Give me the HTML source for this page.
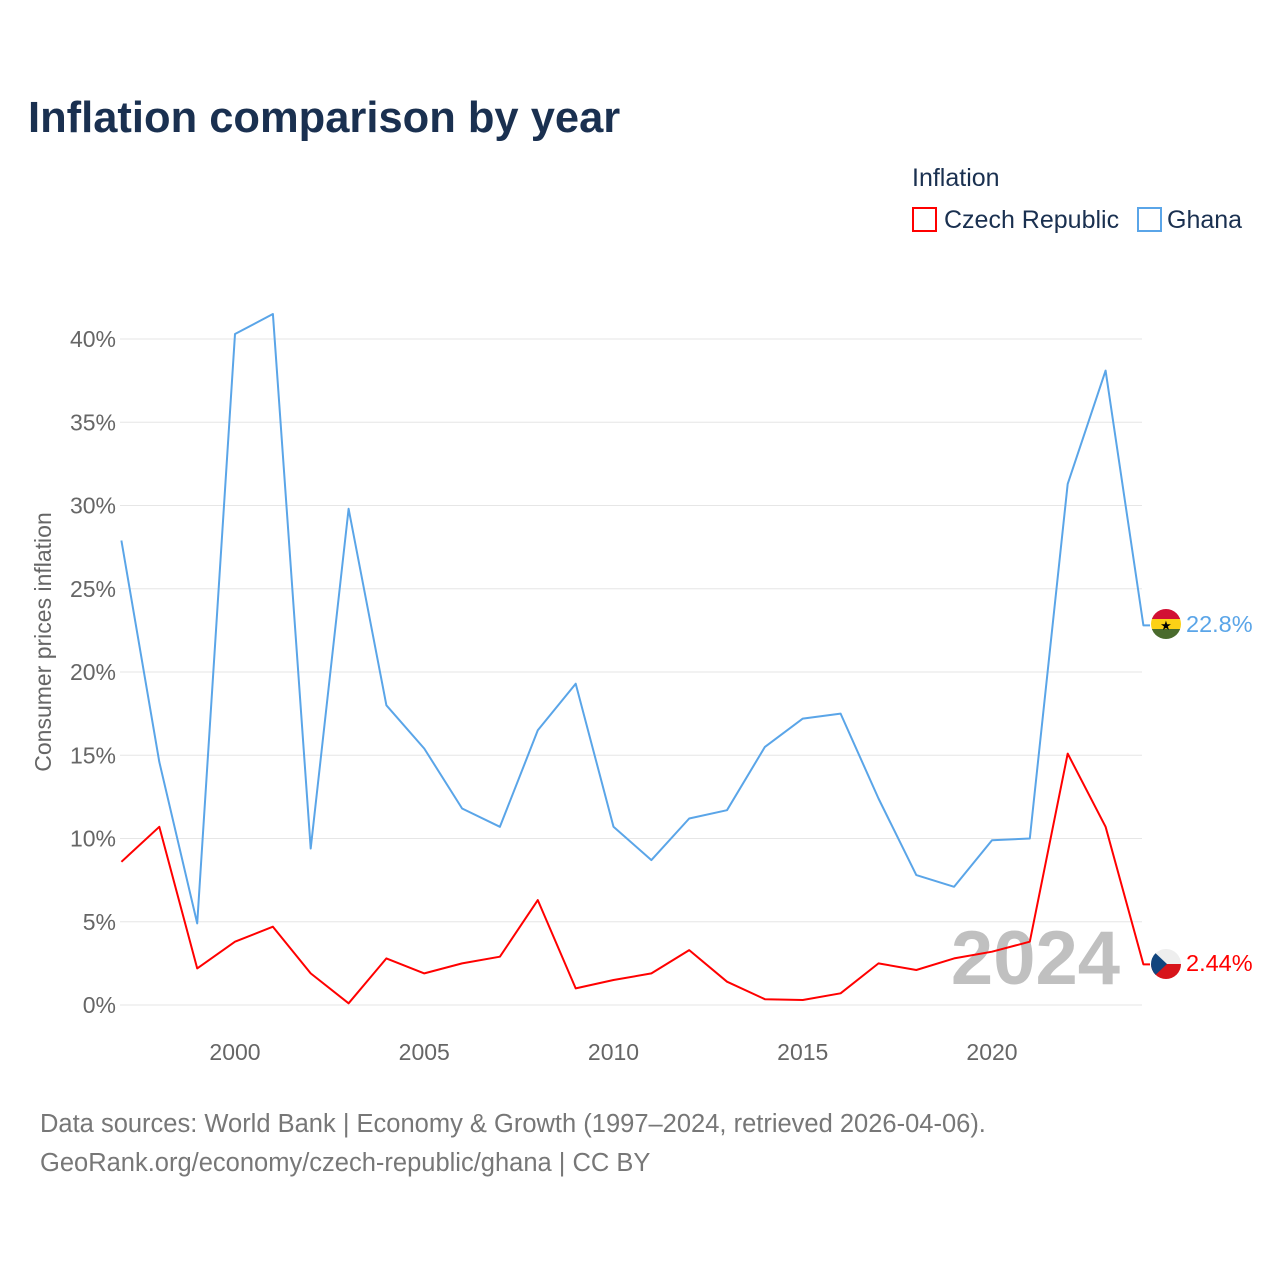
<!DOCTYPE html>
<html><head><meta charset="utf-8"><style>
body{margin:0;background:#fff;font-family:"Liberation Sans",sans-serif}
</style></head><body>
<svg width="1280" height="1280" xmlns="http://www.w3.org/2000/svg" font-family="Liberation Sans, sans-serif">
<text x="28" y="132" font-size="43.5" font-weight="bold" fill="#1a3050">Inflation comparison by year</text>
<text x="912" y="186" font-size="25" fill="#1a3050">Inflation</text>
<g><rect x="913" y="208" width="23" height="23" fill="none" stroke="#ff0000" stroke-width="2"/><text x="944" y="228" font-size="25" fill="#1a3050">Czech Republic</text></g>
<g><rect x="1138" y="208" width="23" height="23" fill="none" stroke="#5aa5e8" stroke-width="2"/><text x="1167" y="228" font-size="25" fill="#1a3050">Ghana</text></g>
<g id="grid"></g>
<g id="yticks"></g>
<g id="xticks"></g>
<text transform="translate(51,642) rotate(-90)" text-anchor="middle" font-size="23" fill="#666">Consumer prices inflation</text>
<text x="1120" y="984" text-anchor="end" font-size="76" font-weight="bold" fill="#c0c0c0">2024</text>
<g id="series"></g>
<g><clipPath id="cg"><circle cx="1166" cy="624" r="15"/></clipPath><g clip-path="url(#cg)"><rect x="1150" y="608" width="32" height="11" fill="#d21034"/><rect x="1150" y="619" width="32" height="10" fill="#fcd116"/><rect x="1150" y="629" width="32" height="11" fill="#4a6b2d"/></g><text x="1166" y="630" text-anchor="middle" font-size="13" fill="#000">★</text></g>
<g><clipPath id="cc"><circle cx="1166" cy="964" r="15"/></clipPath><g clip-path="url(#cc)"><rect x="1150" y="948" width="32" height="16" fill="#eee"/><rect x="1150" y="964" width="32" height="16" fill="#d7141a"/><polygon points="1150,948 1167,964 1150,980" fill="#11457e"/></g></g>
<text id="lblG" x="1186" y="632" font-size="23.5" fill="#5aa5e8">22.8%</text>
<text id="lblC" x="1186" y="971" font-size="23.5" fill="#ff0000">2.44%</text>
<text x="40" y="1132" font-size="25.5" fill="#777">Data sources: World Bank | Economy &amp; Growth (1997–2024, retrieved 2026-04-06).</text>
<text x="40" y="1171" font-size="25.5" fill="#777">GeoRank.org/economy/czech-republic/ghana | CC BY</text>
</svg>
<script>
const years=[1997,1998,1999,2000,2001,2002,2003,2004,2005,2006,2007,2008,2009,2010,2011,2012,2013,2014,2015,2016,2017,2018,2019,2020,2021,2022,2023,2024];
const ghana=[27.9,14.6,4.9,40.3,41.5,9.4,29.8,18.0,15.4,11.8,10.7,16.5,19.3,10.7,8.7,11.2,11.7,15.5,17.2,17.5,12.4,7.8,7.1,9.9,10.0,31.3,38.1,22.8];
const czech=[8.6,10.7,2.2,3.8,4.7,1.9,0.1,2.8,1.9,2.5,2.9,6.3,1.0,1.5,1.9,3.3,1.4,0.35,0.3,0.7,2.5,2.1,2.8,3.2,3.8,15.1,10.7,2.44];
const yTicks=[0,5,10,15,20,25,30,35,40];
const xTicks=[2000,2005,2010,2015,2020];
const NS='http://www.w3.org/2000/svg';
const X=y=>235+(y-2000)*37.85;
const Y=v=>1005-v*16.65;
function mk(t,a,p){const e=document.createElementNS(NS,t);for(const k in a)e.setAttribute(k,a[k]);document.getElementById(p).appendChild(e);return e;}
yTicks.forEach(v=>{
 const l=mk('line',{x1:120,x2:1142,y1:Y(v),y2:Y(v),stroke:'#e6e6e6','stroke-width':1},'grid');
 
 
 const t=mk('text',{x:116,y:Y(v)+8,'text-anchor':'end','font-size':23,fill:'#666'},'yticks');
 t.textContent=v+'%';
 
 
});
xTicks.forEach(v=>{
 const t=mk('text',{x:X(v),y:1060,'text-anchor':'middle','font-size':23,fill:'#666'},'xticks');
 t.textContent=v;
 
 
});
function line(vals,col,name){
 const last=vals[vals.length-1];
 let d=vals.map((v,i)=>(i?'L':'M')+X(years[i]).toFixed(1)+','+Y(v).toFixed(1)).join(' ')+' L1150,'+Y(last).toFixed(1);
 const p=mk('path',{d:d,fill:'none',stroke:col,'stroke-width':2,'stroke-linejoin':'round'},'series');
 
 
}
line(ghana,'#5aa5e8','ghana-line');
line(czech,'#ff0000','czech-line');
</script>
</body></html>
